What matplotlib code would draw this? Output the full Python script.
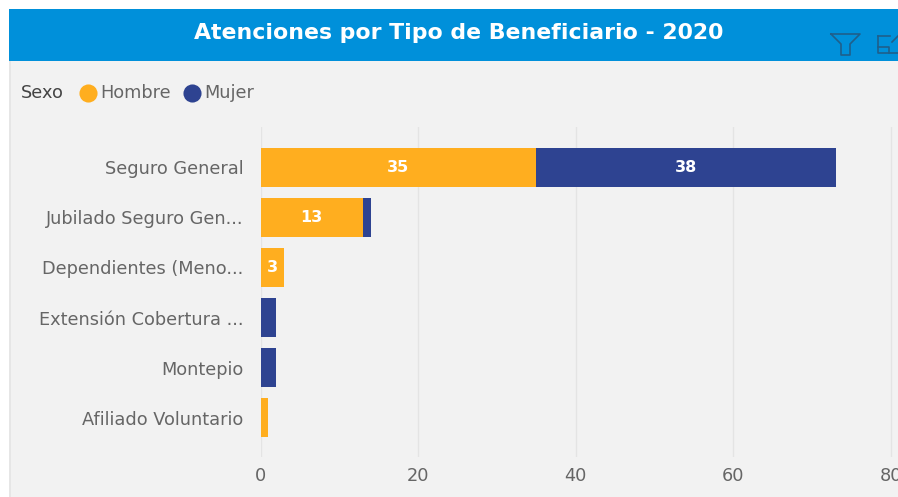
import matplotlib
matplotlib.use("Agg")
import matplotlib.pyplot as plt
from matplotlib.patches import Rectangle

categories = [
    "Seguro General",
    "Jubilado Seguro Gen...",
    "Dependientes (Meno...",
    "Extensión Cobertura ...",
    "Montepio",
    "Afiliado Voluntario",
]
hombre = [35, 13, 3, 0, 0, 1]
mujer = [38, 1, 0, 2, 2, 0]
x_ticks = [0, 20, 40, 60, 80]

ORANGE = "#FFAE1F"
NAVY = "#2E4391"
BLUE = "#0090DA"
PANEL = "#F2F2F2"
GREY = "#666666"
W, H = 898, 497

plt.rcParams["font.family"] = ["DejaVu Sans"]

fig = plt.figure(figsize=(W / 100, H / 100), dpi=100, facecolor="white")

# overlay in pixel coordinates for the card, header and icons
bg = fig.add_axes([0, 0, 1, 1], zorder=0)
bg.set_xlim(0, W)
bg.set_ylim(H, 0)
bg.axis("off")
bg.add_patch(Rectangle((9, 61), W - 9, H - 61, color=PANEL, lw=0))
bg.add_patch(Rectangle((9, 61), 2, H - 61, color="#E6E6E6", lw=0))
bg.add_patch(Rectangle((9, 9), W - 9, 52, color=BLUE, lw=0))
bg.text(459, 33, "Atenciones por Tipo de Beneficiario - 2020", color="white",
        fontsize=15.8, fontweight="bold", ha="center", va="center")

# filter icon and clipped focus icon
icon = "#1F5F8B"
bg.plot([831, 860, 850, 850, 841, 841, 831], [34, 34, 44, 55, 55, 44, 34], color=icon, lw=1.2)
bg.plot([878, 878, 898], [36, 53, 53], color=icon, lw=1.2)
bg.plot([878, 889, 889], [47, 47, 53], color=icon, lw=1.2)
bg.plot([878, 890], [36, 36], color=icon, lw=1.2)
bg.plot([892, 898], [42, 36], color=icon, lw=1.2)

# legend
bg.text(21, 93, "Sexo", color="#444444", fontsize=12.8, va="center")
bg.scatter([88], [93], s=170, color=ORANGE, lw=0)
bg.text(100, 93, "Hombre", color=GREY, fontsize=12.8, va="center")
bg.scatter([192], [93], s=170, color=NAVY, lw=0)
bg.text(204, 93, "Mujer", color=GREY, fontsize=12.8, va="center")

ax = fig.add_axes([260.5 / W, 1 - 457 / H, (W - 260.5) / W, 330 / H], zorder=1)
ax.patch.set_alpha(0)

pos = list(range(len(categories)))
ax.barh(pos, hombre, height=0.78, color=ORANGE, zorder=3)
ax.barh(pos, mujer, left=hombre, height=0.78, color=NAVY, zorder=3)

# value labels only where the segment is wide enough
for i, (h, m) in enumerate(zip(hombre, mujer)):
    if h >= 3:
        ax.text(h / 2, i, str(h), color="white", fontsize=11.5, fontweight="bold",
                ha="center", va="center", zorder=4)
    if m >= 3:
        ax.text(h + m / 2, i, str(m), color="white", fontsize=11.5, fontweight="bold",
                ha="center", va="center", zorder=4)

ax.set_xlim(0, 637.5 / 7.877)
ax.set_ylim(5.78, -0.8)
ax.set_xticks(x_ticks)
ax.set_yticks(pos, categories)
ax.grid(axis="x", color="#E4E4E4", lw=1, zorder=0)
ax.tick_params(length=0, labelcolor=GREY, labelsize=12.8)
ax.tick_params(axis="y", pad=12.5)
ax.tick_params(axis="x", pad=7.5)
for s in ax.spines.values():
    s.set_visible(False)

fig.savefig("out.png", dpi=100)
